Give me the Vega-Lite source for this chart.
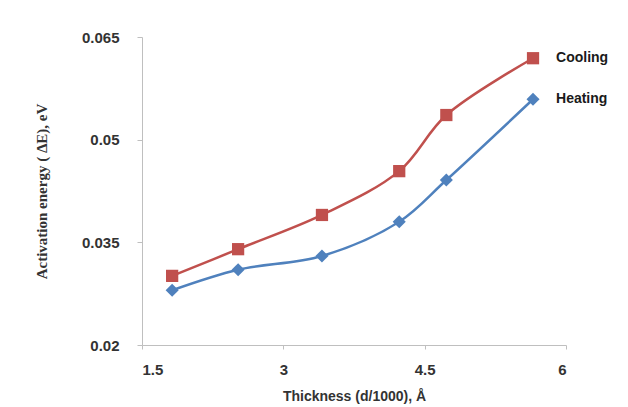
{
  "$schema": "https://vega.github.io/schema/vega-lite/v6.json",
  "width": 424,
  "height": 308,
  "autosize": {"type": "none"},
  "padding": {"left": 142, "top": 37, "right": 62, "bottom": 62},
  "background": "white",
  "config": {"view": {"stroke": null}},
  "data": {"values": [
    {"t": 1.82, "e": 0.0301, "s": "Cooling"},
    {"t": 2.52, "e": 0.0340, "s": "Cooling"},
    {"t": 3.41, "e": 0.0390, "s": "Cooling"},
    {"t": 4.23, "e": 0.0454, "s": "Cooling"},
    {"t": 4.73, "e": 0.0536, "s": "Cooling"},
    {"t": 5.65, "e": 0.0619, "s": "Cooling"},
    {"t": 1.82, "e": 0.0280, "s": "Heating"},
    {"t": 2.52, "e": 0.0310, "s": "Heating"},
    {"t": 3.41, "e": 0.0330, "s": "Heating"},
    {"t": 4.23, "e": 0.0380, "s": "Heating"},
    {"t": 4.73, "e": 0.0441, "s": "Heating"},
    {"t": 5.65, "e": 0.0559, "s": "Heating"}
  ]},
  "encoding": {
    "x": {
      "field": "t", "type": "quantitative",
      "scale": {"domain": [1.5, 6], "nice": false, "zero": false},
      "axis": {
        "values": [1.5, 3, 4.5, 6],
        "labelExpr": "toString(datum.value)",
        "title": "Thickness (d/1000), Å",
        "grid": false,
        "domainColor": "#BFBFBF",
        "tickColor": "#BFBFBF",
        "tickSize": 4,
        "labelFont": "Liberation Sans",
        "labelFontSize": 15,
        "labelFontWeight": "bold",
        "labelColor": "#333333",
        "labelPadding": 13,
        "titleFont": "Liberation Sans",
        "titleFontSize": 14,
        "titleFontWeight": "bold",
        "titleColor": "#333333",
        "titlePadding": 12
      }
    },
    "y": {
      "field": "e", "type": "quantitative",
      "scale": {"domain": [0.02, 0.065], "nice": false, "zero": false},
      "axis": {
        "values": [0.02, 0.035, 0.05, 0.065],
        "labelExpr": "toString(datum.value)",
        "title": "Activation energy ( ΔE), eV",
        "grid": false,
        "domainColor": "#BFBFBF",
        "tickColor": "#BFBFBF",
        "tickSize": 5,
        "labelFont": "Liberation Sans",
        "labelFontSize": 15,
        "labelFontWeight": "bold",
        "labelColor": "#333333",
        "labelPadding": 18,
        "titleFont": "Liberation Serif",
        "titleFontSize": 15,
        "titleFontWeight": "bold",
        "titleColor": "#333333",
        "titlePadding": 32
      }
    },
    "color": {
      "field": "s", "type": "nominal",
      "scale": {"domain": ["Cooling", "Heating"], "range": ["#C0504D", "#4F81BD"]},
      "legend": null
    }
  },
  "layer": [
    {
      "mark": {"type": "line", "interpolate": "catmull-rom", "strokeWidth": 2.5}
    },
    {
      "mark": {"type": "point", "filled": true, "opacity": 1, "stroke": null},
      "encoding": {
        "shape": {
          "field": "s", "type": "nominal",
          "scale": {"domain": ["Cooling", "Heating"], "range": ["square", "diamond"]},
          "legend": null
        },
        "size": {
          "field": "s", "type": "nominal",
          "scale": {"domain": ["Cooling", "Heating"], "range": [150, 170]},
          "legend": null
        }
      }
    },
    {
      "transform": [{"filter": "datum.t > 5.5"}],
      "mark": {"type": "text", "align": "left", "baseline": "middle", "dx": 23, "font": "Liberation Sans", "fontSize": 14, "fontWeight": "bold"},
      "encoding": {
        "text": {"field": "s"},
        "color": {"value": "#1a1a1a"},
        "yOffset": {"condition": {"test": "datum.s === 'Heating'", "value": 5}, "value": 0}
      }
    }
  ]
}
